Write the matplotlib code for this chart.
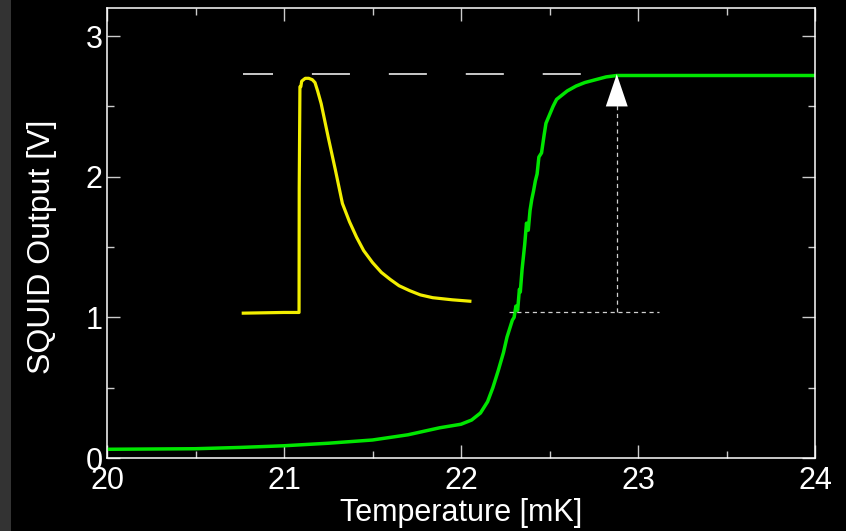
import matplotlib.pyplot as plt
from matplotlib.patches import Rectangle, Polygon
from matplotlib.ticker import MultipleLocator

plt.rcParams['font.family'] = ['Liberation Sans', 'DejaVu Sans']
plt.rcParams['lines.scale_dashes'] = False

# SQUID output across the superconducting transition
temp = [20.0, 20.25, 20.5, 20.75, 21.0, 21.25, 21.5, 21.7, 21.88, 22.0,
        22.06, 22.11, 22.15, 22.18, 22.21, 22.24, 22.26, 22.28, 22.29, 22.3,
        22.31, 22.32, 22.33, 22.335, 22.345, 22.35, 22.36, 22.37, 22.38,
        22.39, 22.4, 22.41, 22.42, 22.43, 22.44, 22.455, 22.47, 22.48,
        22.5, 22.52, 22.54, 22.57, 22.6, 22.65, 22.7, 22.76, 22.82, 22.88,
        23.5, 24.0]
squid = [0.062, 0.064, 0.066, 0.075, 0.087, 0.105, 0.128, 0.165, 0.215, 0.24,
         0.27, 0.32, 0.40, 0.50, 0.62, 0.75, 0.86, 0.94, 0.98, 1.0,
         1.08, 1.05, 1.2, 1.18, 1.34, 1.40, 1.52, 1.67, 1.62,
         1.76, 1.84, 1.90, 1.97, 2.02, 2.14, 2.17, 2.30, 2.38,
         2.44, 2.50, 2.55, 2.58, 2.61, 2.645, 2.67, 2.69, 2.71, 2.72,
         2.72, 2.72]

# single heat pulse trace
pulse_t = [20.77, 21.0, 21.085, 21.086, 21.09, 21.095, 21.1, 21.12, 21.14,
           21.16, 21.175, 21.19, 21.21, 21.23, 21.25, 21.27, 21.29, 21.31,
           21.33, 21.37, 21.41, 21.45, 21.5, 21.55, 21.6, 21.65, 21.71,
           21.77, 21.84, 21.95, 22.05]
pulse_v = [1.03, 1.035, 1.035, 1.92, 2.64, 2.64, 2.68, 2.70, 2.70,
           2.69, 2.67, 2.61, 2.52, 2.40, 2.28, 2.165, 2.05, 1.93,
           1.81, 1.68, 1.57, 1.475, 1.39, 1.32, 1.27, 1.225, 1.19,
           1.16, 1.14, 1.125, 1.115]

plateau = 2.73
base_level = 1.035
t_arrow = 22.88
t_guide = [22.27, 23.12]
t_dash = [20.77, 22.88]

fig = plt.figure(figsize=(8.46, 5.31), dpi=100, facecolor='black')
fig.patches.append(Rectangle((0, 0), 11 / 846, 1, transform=fig.transFigure,
                             facecolor='#333333', edgecolor='none', zorder=0))
ax = fig.add_axes([107 / 846, 1 - 458 / 531, 708 / 846, 450 / 531])
ax.set_facecolor('black')

ax.plot(t_dash, [plateau, plateau], color='white', lw=1.1,
        linestyle=(5.8, (27.4, 28.0)))
ax.plot(temp, squid, color='#00e600', lw=2.5, solid_joinstyle='round')
ax.plot(pulse_t, pulse_v, color='#f2ee00', lw=2.3, solid_joinstyle='round')
ax.plot([t_arrow, t_arrow], [base_level, 2.52], color='#d0d0d0', lw=0.9,
        linestyle=(0, (3.0, 2.6)))
ax.plot(t_guide, [base_level, base_level], color='#d0d0d0', lw=0.9,
        linestyle=(0, (3.0, 2.6)))
ax.add_patch(Polygon([(t_arrow - 0.062, 2.50), (t_arrow + 0.062, 2.50),
                      (t_arrow, plateau)], closed=True, facecolor='white',
                     edgecolor='none', zorder=5))

ax.set_xlim(20, 24)
ax.set_ylim(0, 3.2)
ax.xaxis.set_major_locator(MultipleLocator(1))
ax.xaxis.set_minor_locator(MultipleLocator(0.5))
ax.yaxis.set_major_locator(MultipleLocator(1))
ax.yaxis.set_minor_locator(MultipleLocator(0.5))
ax.tick_params(which='both', direction='in', top=True, right=True,
               colors='#cccccc', labelcolor='white', labelsize=22, width=1)
ax.tick_params(which='major', length=9.5)
ax.tick_params(axis='x', which='major', pad=6)
ax.tick_params(axis='y', which='major', pad=3)
ax.tick_params(which='minor', length=5)
for s in ax.spines.values():
    s.set_color('white')
    s.set_linewidth(1.1)

ax.set_xlabel('Temperature [mK]', color='white', fontsize=22, labelpad=1)
ax.set_ylabel('SQUID Output [V]', color='white', fontsize=23)
ax.yaxis.set_label_coords(-0.071, 0.47)

fig.savefig('out.png', dpi=100, facecolor='black')
